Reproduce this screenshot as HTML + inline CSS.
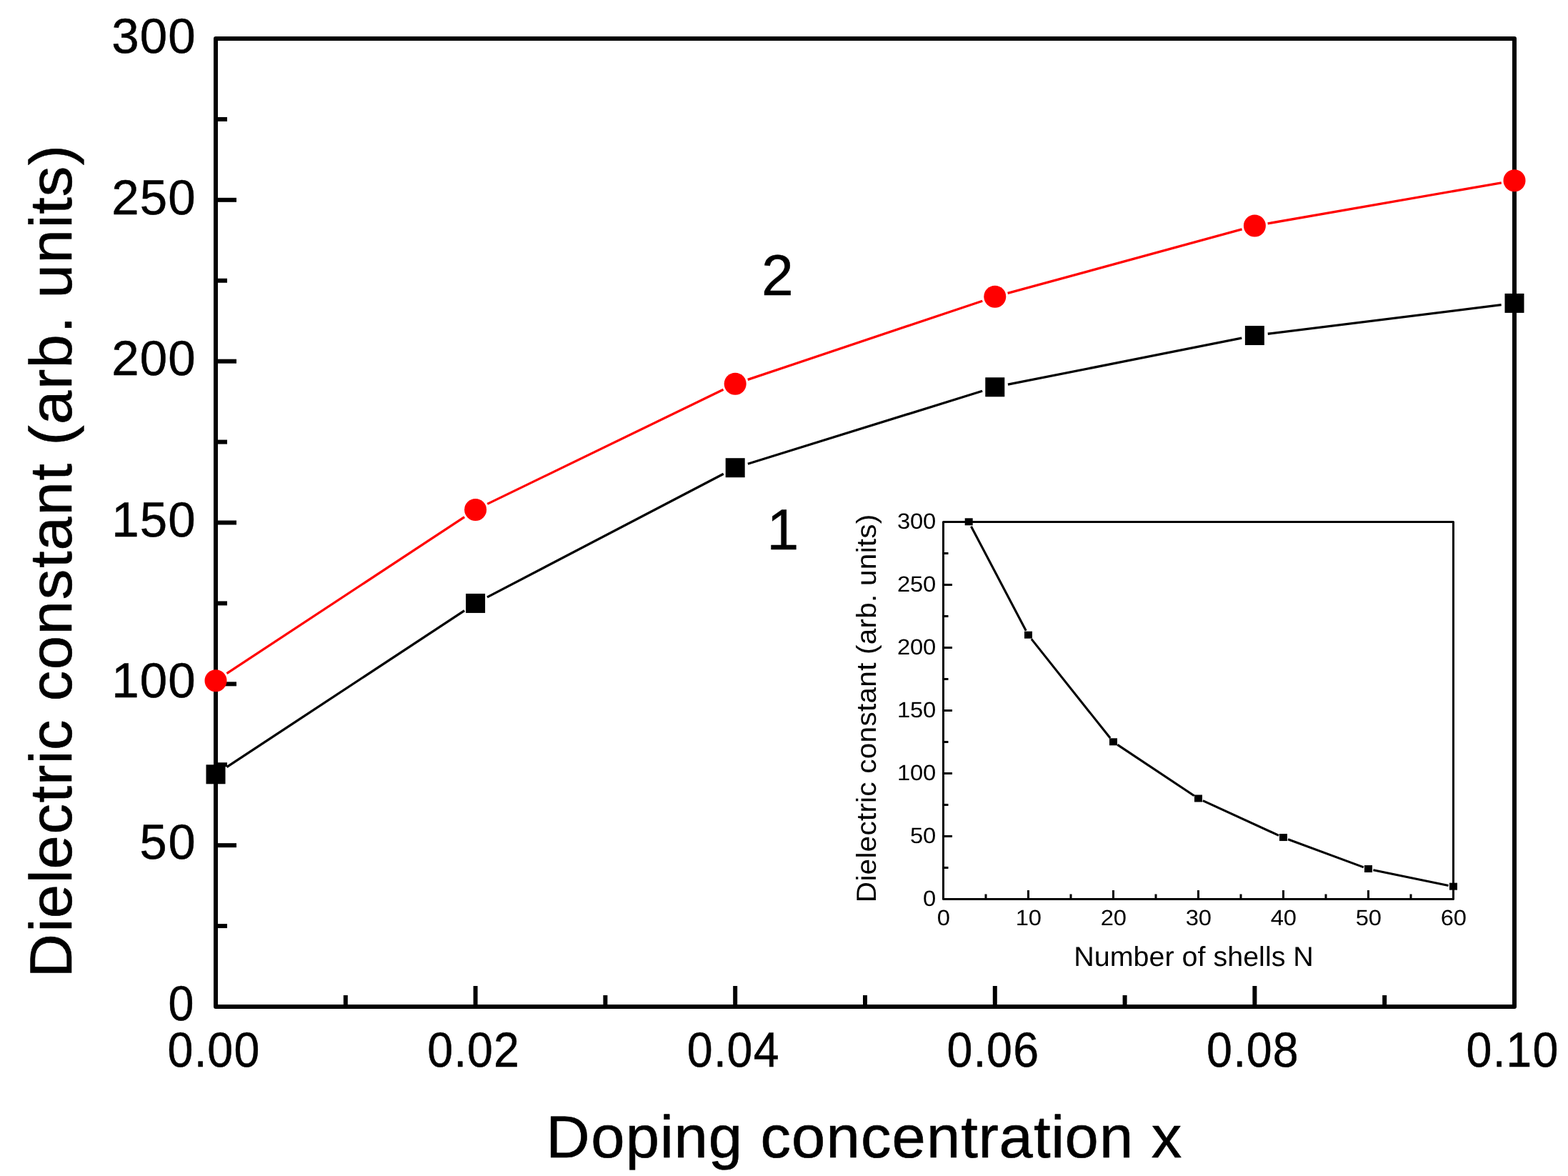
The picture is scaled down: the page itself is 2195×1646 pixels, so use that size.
<!DOCTYPE html>
<html lang="en"><head><meta charset="utf-8"><title>Dielectric constant</title>
<style>
html,body{margin:0;padding:0;background:#fff;}
body{width:2195px;height:1646px;overflow:hidden;}
svg{display:block;}
text{font-family:"Liberation Sans",sans-serif;fill:#000;white-space:pre;font-kerning:none;text-rendering:geometricPrecision;}
</style></head><body>
<svg width="2195" height="1646" viewBox="0 0 2195 1646">
<rect width="2195" height="1646" fill="#fff"/>
<g id="series-lines">
<g stroke="#000" stroke-width="3.3" fill="none">
<line x1="317.45" y1="1073.63" x2="650.15" y2="854.59"/>
<line x1="682.00" y1="835.86" x2="1012.80" y2="663.27"/>
<line x1="1046.87" y1="649.23" x2="1375.13" y2="547.29"/>
<line x1="1410.95" y1="538.19" x2="1738.25" y2="473.14"/>
<line x1="1774.76" y1="467.25" x2="2101.64" y2="426.65"/>
</g>
<g stroke="#f00" stroke-width="3.3" fill="none">
<line x1="317.45" y1="942.64" x2="650.15" y2="723.61"/>
<line x1="682.25" y1="705.37" x2="1012.55" y2="545.35"/>
<line x1="1046.74" y1="531.40" x2="1375.26" y2="421.22"/>
<line x1="1410.65" y1="410.46" x2="1738.55" y2="320.84"/>
<line x1="1774.63" y1="312.80" x2="2101.77" y2="255.90"/>
</g>
</g>
<g id="main-axes" stroke="#000" fill="none">
<rect x="302" y="54" width="1818" height="1355" stroke-width="6" stroke-linejoin="round"/>
<g stroke-width="6">
<line x1="304" y1="1296.08" x2="318" y2="1296.08"/>
<line x1="304" y1="1183.17" x2="331" y2="1183.17"/>
<line x1="304" y1="1070.25" x2="318" y2="1070.25"/>
<line x1="304" y1="957.33" x2="331" y2="957.33"/>
<line x1="304" y1="844.42" x2="318" y2="844.42"/>
<line x1="304" y1="731.50" x2="331" y2="731.50"/>
<line x1="304" y1="618.58" x2="318" y2="618.58"/>
<line x1="304" y1="505.67" x2="331" y2="505.67"/>
<line x1="304" y1="392.75" x2="318" y2="392.75"/>
<line x1="304" y1="279.83" x2="331" y2="279.83"/>
<line x1="304" y1="166.92" x2="318" y2="166.92"/>
<line x1="483.80" y1="1407" x2="483.80" y2="1393"/>
<line x1="665.60" y1="1407" x2="665.60" y2="1380"/>
<line x1="847.40" y1="1407" x2="847.40" y2="1393"/>
<line x1="1029.20" y1="1407" x2="1029.20" y2="1380"/>
<line x1="1211.00" y1="1407" x2="1211.00" y2="1393"/>
<line x1="1392.80" y1="1407" x2="1392.80" y2="1380"/>
<line x1="1574.60" y1="1407" x2="1574.60" y2="1393"/>
<line x1="1756.40" y1="1407" x2="1756.40" y2="1380"/>
<line x1="1938.20" y1="1407" x2="1938.20" y2="1393"/>
</g></g>
<g id="series-markers">
<rect x="288.50" y="1070.30" width="27" height="27" fill="#000"/>
<rect x="652.10" y="830.92" width="27" height="27" fill="#000"/>
<rect x="1015.70" y="641.22" width="27" height="27" fill="#000"/>
<rect x="1379.30" y="528.30" width="27" height="27" fill="#000"/>
<rect x="1742.90" y="456.03" width="27" height="27" fill="#000"/>
<rect x="2106.50" y="410.87" width="27" height="27" fill="#000"/>
<circle cx="302.00" cy="952.82" r="15.5" fill="#f00"/>
<circle cx="665.60" cy="713.43" r="15.5" fill="#f00"/>
<circle cx="1029.20" cy="537.28" r="15.5" fill="#f00"/>
<circle cx="1392.80" cy="415.33" r="15.5" fill="#f00"/>
<circle cx="1756.40" cy="315.97" r="15.5" fill="#f00"/>
<circle cx="2120.00" cy="252.73" r="15.5" fill="#f00"/>
</g>
<g id="main-labels">
<text transform="translate(271.37 1428.2) scale(0.9361 1)" x="-38.32" y="0" font-size="68.9" stroke="#000" stroke-width="0.5" stroke-linejoin="round">0</text>
<text transform="translate(275.58 1201.97) scale(0.9956 1)" x="-80.55 -40.27" y="0" font-size="68.9" stroke="#000" stroke-width="0.5" stroke-linejoin="round">50</text>
<text transform="translate(274.81 976.23) scale(1.0015 1)" x="-118.46 -78.97 -39.49" y="0" font-size="68.9" stroke="#000" stroke-width="0.5" stroke-linejoin="round">100</text>
<text transform="translate(274.81 750.5) scale(1.0015 1)" x="-118.46 -78.97 -39.49" y="0" font-size="68.9" stroke="#000" stroke-width="0.5" stroke-linejoin="round">150</text>
<text transform="translate(274.81 524.87) scale(1.0015 1)" x="-118.46 -78.97 -39.49" y="0" font-size="68.9" stroke="#000" stroke-width="0.5" stroke-linejoin="round">200</text>
<text transform="translate(274.81 299.73) scale(1.0015 1)" x="-118.46 -78.97 -39.49" y="0" font-size="68.9" stroke="#000" stroke-width="0.5" stroke-linejoin="round">250</text>
<text transform="translate(274.81 74.2) scale(1.0015 1)" x="-118.46 -78.97 -39.49" y="0" font-size="68.9" stroke="#000" stroke-width="0.5" stroke-linejoin="round">300</text>
<text transform="translate(299.6 1492.8) scale(0.9361 1)" x="-69.44 -29.76 -9.93 29.76" y="0" font-size="68.9" stroke="#000" stroke-width="0.5" stroke-linejoin="round">0.00</text>
<text transform="translate(663.2 1492.8) scale(0.9361 1)" x="-69.44 -29.76 -9.93 29.76" y="0" font-size="68.9" stroke="#000" stroke-width="0.5" stroke-linejoin="round">0.02</text>
<text transform="translate(1026.8 1492.8) scale(0.9361 1)" x="-69.44 -29.76 -9.93 29.76" y="0" font-size="68.9" stroke="#000" stroke-width="0.5" stroke-linejoin="round">0.04</text>
<text transform="translate(1390.4 1492.8) scale(0.9361 1)" x="-69.44 -29.76 -9.93 29.76" y="0" font-size="68.9" stroke="#000" stroke-width="0.5" stroke-linejoin="round">0.06</text>
<text transform="translate(1754 1492.8) scale(0.9361 1)" x="-69.44 -29.76 -9.93 29.76" y="0" font-size="68.9" stroke="#000" stroke-width="0.5" stroke-linejoin="round">0.08</text>
<text transform="translate(2117.6 1492.8) scale(0.9361 1)" x="-69.44 -29.76 -9.93 29.76" y="0" font-size="68.9" stroke="#000" stroke-width="0.5" stroke-linejoin="round">0.10</text>
</g>
<g id="titles">
<text transform="translate(764.3 1619.7) scale(1.0204 1)" x="0 61.64 109.11 156.59 175.55 223.02 270.49 294.21 336.89 384.36 431.83 474.51 521.98 569.46 593.17 621.6 669.07 692.78 711.75 759.22 806.69 830.41" y="0" font-size="83.3" stroke="#000" stroke-width="0.6" stroke-linejoin="round">Doping concentration x</text>
<text transform="translate(99.6 1368.5) rotate(-90) scale(1.0204 1)" x="0 62.42 81.62 129.7 148.9 196.97 240.19 264.2 292.99 312.19 355.41 379.42 422.64 470.71 518.78 562 586.02 634.09 682.16 706.18 730.19 758.97 807.05 835.83 883.9 907.92 931.93 980 1028.07 1047.28 1071.29 1114.51" y="0" font-size="83.3" stroke="#000" stroke-width="0.6" stroke-linejoin="round">Dielectric constant (arb. units)</text>
</g>
<g id="curve-labels">
<text transform="translate(1065.9 412.9)" x="0" y="0" font-size="80.5" stroke="#000" stroke-width="0.5" stroke-linejoin="round">2</text>
<text transform="translate(1073.5 769)" x="0" y="0" font-size="80.5" stroke="#000" stroke-width="0.5" stroke-linejoin="round">1</text>
</g>
<g id="inset">
<g stroke="#000" fill="none" stroke-width="3">
<rect x="1320.5" y="730.5" width="714" height="528" stroke-linejoin="round"/>
<line x1="1321" y1="1214.50" x2="1327.5" y2="1214.50"/>
<line x1="1321" y1="1170.50" x2="1333" y2="1170.50"/>
<line x1="1321" y1="1126.50" x2="1327.5" y2="1126.50"/>
<line x1="1321" y1="1082.50" x2="1333" y2="1082.50"/>
<line x1="1321" y1="1038.50" x2="1327.5" y2="1038.50"/>
<line x1="1321" y1="994.50" x2="1333" y2="994.50"/>
<line x1="1321" y1="950.50" x2="1327.5" y2="950.50"/>
<line x1="1321" y1="906.50" x2="1333" y2="906.50"/>
<line x1="1321" y1="862.50" x2="1327.5" y2="862.50"/>
<line x1="1321" y1="818.50" x2="1333" y2="818.50"/>
<line x1="1321" y1="774.50" x2="1327.5" y2="774.50"/>
<line x1="1380.00" y1="1258" x2="1380.00" y2="1251.5"/>
<line x1="1439.50" y1="1258" x2="1439.50" y2="1246"/>
<line x1="1499.00" y1="1258" x2="1499.00" y2="1251.5"/>
<line x1="1558.50" y1="1258" x2="1558.50" y2="1246"/>
<line x1="1618.00" y1="1258" x2="1618.00" y2="1251.5"/>
<line x1="1677.50" y1="1258" x2="1677.50" y2="1246"/>
<line x1="1737.00" y1="1258" x2="1737.00" y2="1251.5"/>
<line x1="1796.50" y1="1258" x2="1796.50" y2="1246"/>
<line x1="1856.00" y1="1258" x2="1856.00" y2="1251.5"/>
<line x1="1915.50" y1="1258" x2="1915.50" y2="1246"/>
<line x1="1975.00" y1="1258" x2="1975.00" y2="1251.5"/>
</g>
<g stroke="#000" stroke-width="3.1" fill="none">
<line x1="1359.46" y1="736.70" x2="1436.24" y2="882.70"/>
<line x1="1443.86" y1="894.38" x2="1554.14" y2="1033.02"/>
<line x1="1564.33" y1="1042.38" x2="1671.67" y2="1113.82"/>
<line x1="1683.86" y1="1120.62" x2="1790.14" y2="1169.34"/>
<line x1="1803.07" y1="1174.69" x2="1908.93" y2="1213.83"/>
<line x1="1922.35" y1="1217.68" x2="2027.65" y2="1239.48"/>
</g>
<rect x="1350.70" y="725.30" width="11" height="10" fill="#000"/>
<rect x="1434.00" y="883.70" width="11" height="10" fill="#000"/>
<rect x="1553.00" y="1033.30" width="11" height="10" fill="#000"/>
<rect x="1672.00" y="1112.50" width="11" height="10" fill="#000"/>
<rect x="1791.00" y="1167.06" width="11" height="10" fill="#000"/>
<rect x="1910.00" y="1211.06" width="11" height="10" fill="#000"/>
<rect x="2029.00" y="1235.70" width="11" height="10" fill="#000"/>
<text transform="translate(1310.1 1267.8) scale(1.0649 1)" x="-16.95" y="0" font-size="30.8">0</text>
<text transform="translate(1310.1 1179.8) scale(1.0649 1)" x="-33.89 -16.95" y="0" font-size="30.8">50</text>
<text transform="translate(1310.1 1091.8) scale(1.0649 1)" x="-50.84 -33.89 -16.95" y="0" font-size="30.8">100</text>
<text transform="translate(1310.1 1003.8) scale(1.0649 1)" x="-50.84 -33.89 -16.95" y="0" font-size="30.8">150</text>
<text transform="translate(1310.1 915.8) scale(1.0649 1)" x="-50.84 -33.89 -16.95" y="0" font-size="30.8">200</text>
<text transform="translate(1310.1 827.8) scale(1.0649 1)" x="-50.84 -33.89 -16.95" y="0" font-size="30.8">250</text>
<text transform="translate(1310.1 739.8) scale(1.0649 1)" x="-50.84 -33.89 -16.95" y="0" font-size="30.8">300</text>
<text transform="translate(1320.7 1295) scale(1.0649 1)" x="-8.47" y="0" font-size="30.8">0</text>
<text transform="translate(1439.7 1295) scale(1.0649 1)" x="-16.95 0" y="0" font-size="30.8">10</text>
<text transform="translate(1558.7 1295) scale(1.0649 1)" x="-16.95 0" y="0" font-size="30.8">20</text>
<text transform="translate(1677.7 1295) scale(1.0649 1)" x="-16.95 0" y="0" font-size="30.8">30</text>
<text transform="translate(1796.7 1295) scale(1.0649 1)" x="-16.95 0" y="0" font-size="30.8">40</text>
<text transform="translate(1915.7 1295) scale(1.0649 1)" x="-16.95 0" y="0" font-size="30.8">50</text>
<text transform="translate(2034.7 1295) scale(1.0649 1)" x="-16.95 0" y="0" font-size="30.8">60</text>
<text transform="translate(1503.2 1351.8) scale(1.0233 1)" x="0" y="0" font-size="38.6">Number of shells N</text>
<text transform="translate(1225.9 1263.2) rotate(-90) scale(1.0492 1)" x="0 28.29 36.99 58.78 67.48 89.27 108.85 119.73 132.78 141.48 161.07 171.95 191.54 213.32 235.11 254.69 265.58 287.36 309.15 320.03 330.91 343.96 365.74 378.79 400.57 411.46 422.34 444.13 465.91 474.61 485.5 505.08" y="0" font-size="38.6">Dielectric constant (arb. units)</text>
</g>
</svg>
</body></html>
